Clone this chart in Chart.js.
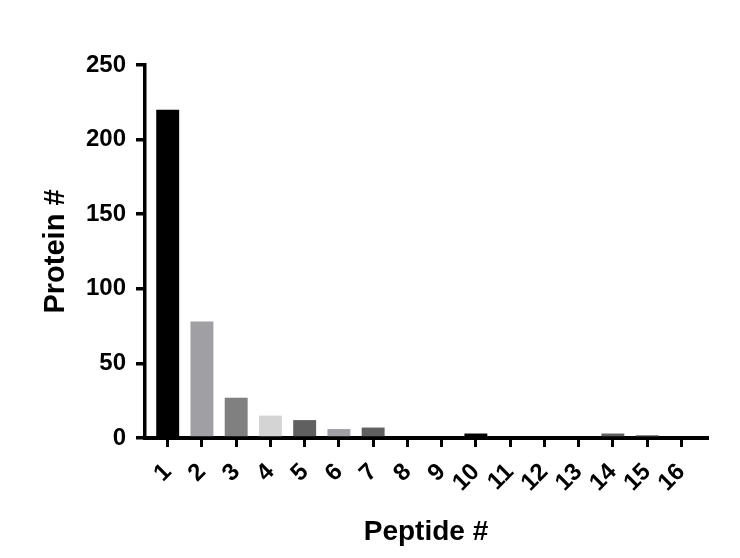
<!DOCTYPE html>
<html>
<head>
<meta charset="utf-8">
<script src="https://cdn.jsdelivr.net/npm/chart.js@4/dist/chart.umd.min.js"></script>
<style>
    body { margin: 0; background: #fff; }
    #wrap { width: 740px; height: 558px; }
</style>
</head>
<body>
<div id="wrap"><canvas id="chart" width="740" height="558"></canvas></div>
<script>
// values
const peptideNumbers = [1, 2, 3, 4, 5, 6, 7, 8, 9, 10, 11, 12, 13, 14, 15, 16];
const proteinCounts = [220, 78, 27, 15, 12, 6, 7, 0, 0, 3, 0, 0, 0, 3, 2, 0];
const barColors = ['#000000', '#a0a0a4', '#808080', '#d4d4d4', '#606060', '#a0a0a4', '#606060', '#808080',
    '#808080', '#000000', '#808080', '#808080', '#808080', '#606060', '#8c8c8c', '#808080'];
const yTicks = [0, 50, 100, 150, 200, 250];

Chart.defaults.font.family = "'Liberation Sans', Arial, sans-serif";
Chart.defaults.color = '#000';

const points = peptideNumbers.map(function (p, i) {
    return { x: p, y: proteinCounts[i] };
});

new Chart(document.getElementById('chart'), {
    type: 'bar',
    data: {
        datasets: [{
            data: points,
            backgroundColor: barColors,
            borderWidth: 0,
            barPercentage: 0.67,
            categoryPercentage: 1
        }]
    },
    options: {
        responsive: false,
        animation: false,
        layout: { padding: { top: 65, right: 33, left: 0, bottom: 0 } },
        plugins: { legend: { display: false }, tooltip: { enabled: false } },
        scales: {
            x: {
                type: 'linear',
                offset: false,
                min: 0.337,
                max: 16.75,
                z: 1,
                afterBuildTicks: function (scale) {
                    scale.ticks = peptideNumbers.map(function (v) { return { value: v }; });
                },
                afterFit: function (scale) { scale.height = 120; },
                border: { display: true, color: '#000', width: 4 },
                grid: { drawOnChartArea: false, offset: false, color: '#000', lineWidth: 3, tickLength: 9 },
                ticks: {
                    autoSkip: false,
                    minRotation: 45,
                    maxRotation: 45,
                    padding: 11,
                    font: { size: 24, weight: 'bold' },
                    callback: function (v) { return String(v); }
                },
                title: {
                    display: true,
                    text: 'Peptide #',
                    font: { size: 28, weight: 'bold' },
                    padding: { top: 0, bottom: 9 }
                }
            },
            y: {
                min: 0,
                max: 250,
                z: 1,
                afterBuildTicks: function (scale) {
                    scale.ticks = yTicks.map(function (v) { return { value: v }; });
                },
                afterFit: function (scale) { scale.width = 145; },
                border: { display: true, color: '#000', width: 3.5 },
                grid: { drawOnChartArea: false, color: '#000', lineWidth: 3.5, tickLength: 9 },
                ticks: {
                    padding: 10,
                    font: { size: 24, weight: 'bold' }
                },
                title: {
                    display: true,
                    text: 'Protein #',
                    font: { size: 29, weight: 'bold' },
                    padding: { top: 39, bottom: 0 }
                }
            }
        }
    }
});
</script>
</body>
</html>
